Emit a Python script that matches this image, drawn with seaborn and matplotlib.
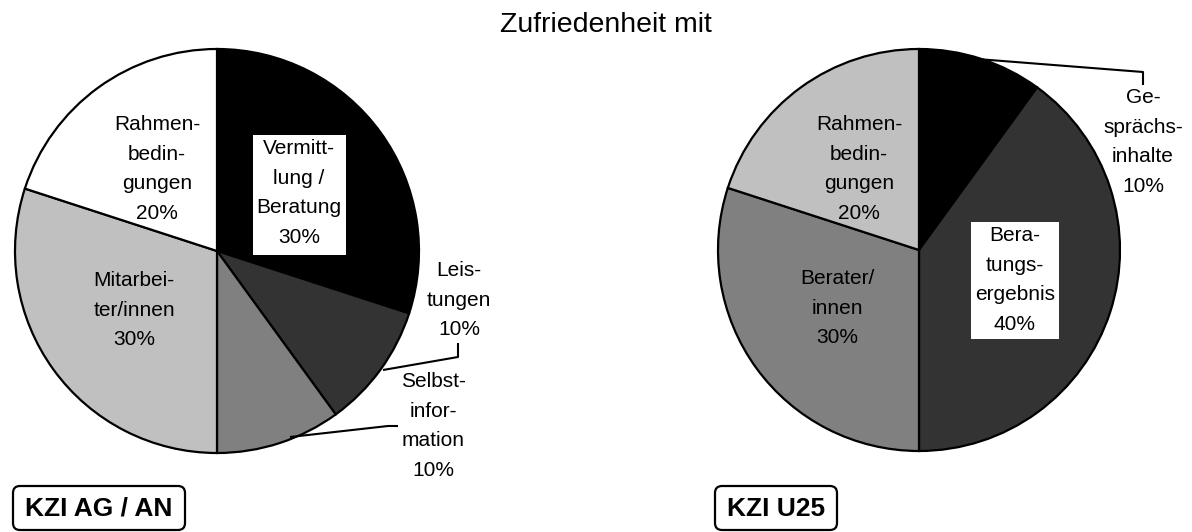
import matplotlib
matplotlib.use("Agg")
import matplotlib.pyplot as plt
from matplotlib.patches import Rectangle, FancyBboxPatch
import seaborn as sns

# data
title = "Zufriedenheit mit"

left_name = "KZI AG / AN"
left_labels = ["Vermitt-\nlung /\nBeratung", "Leis-\ntungen", "Selbst-\ninfor-\nmation",
               "Mitarbei-\nter/innen", "Rahmen-\nbedin-\ngungen"]
left_values = [30, 10, 10, 30, 20]

right_name = "KZI U25"
right_labels = ["Ge-\nsprächs-\ninhalte", "Bera-\ntungs-\nergebnis", "Berater/\ninnen",
                "Rahmen-\nbedin-\ngungen"]
right_values = [10, 40, 30, 20]

left_colors = ["#000000", "#333333", "#808080", "#c0c0c0", "#ffffff"]
right_colors = ["#000000", "#333333", "#808080", "#c0c0c0"]

sns.set_style("white")
plt.rcParams['font.family'] = ['Liberation Sans', 'DejaVu Sans']
plt.rcParams['text.color'] = 'black'

W, H = 1192, 532
fig = plt.figure(figsize=(W / 100, H / 100), dpi=100)
ax = fig.add_axes([0, 0, 1, 1])


def px(x, y):
    # pixel coords measured from the top-left corner
    return (x, H - y)


def draw_pie(values, colors, center, radius):
    ax.pie(values, colors=colors, startangle=90, counterclock=False,
           center=px(*center), radius=radius, frame=True,
           wedgeprops=dict(edgecolor='black', linewidth=1.6))


draw_pie(left_values, left_colors, (217, 251), 202)
draw_pie(right_values, right_colors, (919, 250), 201)
ax.set_xlim(0, W)
ax.set_ylim(0, H)
ax.set_aspect('equal')
ax.axis('off')

lab_kw = dict(fontsize=15, ha='center', va='center', linespacing=1.72, color='black')

# label centres (layout only)
left_pos = [(299, 193), (459, 300), (433, 426), (134, 310), (157, 169)]
right_pos = [(1143, 142), (1015, 280), (837, 308), (859, 169)]
boxed = [(253, 135, 93, 120), (971, 222, 88, 117)]

for x0, y0, w, h in boxed:
    ax.add_patch(Rectangle(px(x0, y0 + h), w, h, facecolor='white', edgecolor='none', zorder=3))

for lab, v, (x, y) in zip(left_labels, left_values, left_pos):
    ax.text(*px(x, y), f"{lab}\n{v}%", zorder=4, **lab_kw)
for lab, v, (x, y) in zip(right_labels, right_values, right_pos):
    ax.text(*px(x, y), f"{lab}\n{v}%", zorder=4, **lab_kw)

# leader lines
leaders = [
    [(458, 343), (458, 357), (383, 370)],
    [(290, 437), (388, 426), (398, 426)],
    [(977, 59), (1143, 72), (1143, 85)],
]
for pts in leaders:
    xs = [px(*p)[0] for p in pts]
    ys = [px(*p)[1] for p in pts]
    ax.plot(xs, ys, color='black', lw=1.5, zorder=5, solid_capstyle='butt')

ax.text(*px(606, 32), title, fontsize=20.5, ha='center', va='baseline', color='black')

for name, (x0, x1) in [(left_name, (13, 185)), (right_name, (715, 837))]:
    ax.add_patch(FancyBboxPatch(px(x0, 530), x1 - x0, 44,
                                boxstyle="round,pad=0,rounding_size=7",
                                facecolor='white', edgecolor='black', linewidth=1.6))
    ax.text(*px((x0 + x1) / 2, 509), name, fontsize=19, fontweight='bold',
            ha='center', va='center', color='black')

fig.savefig("out.png", dpi=100)
